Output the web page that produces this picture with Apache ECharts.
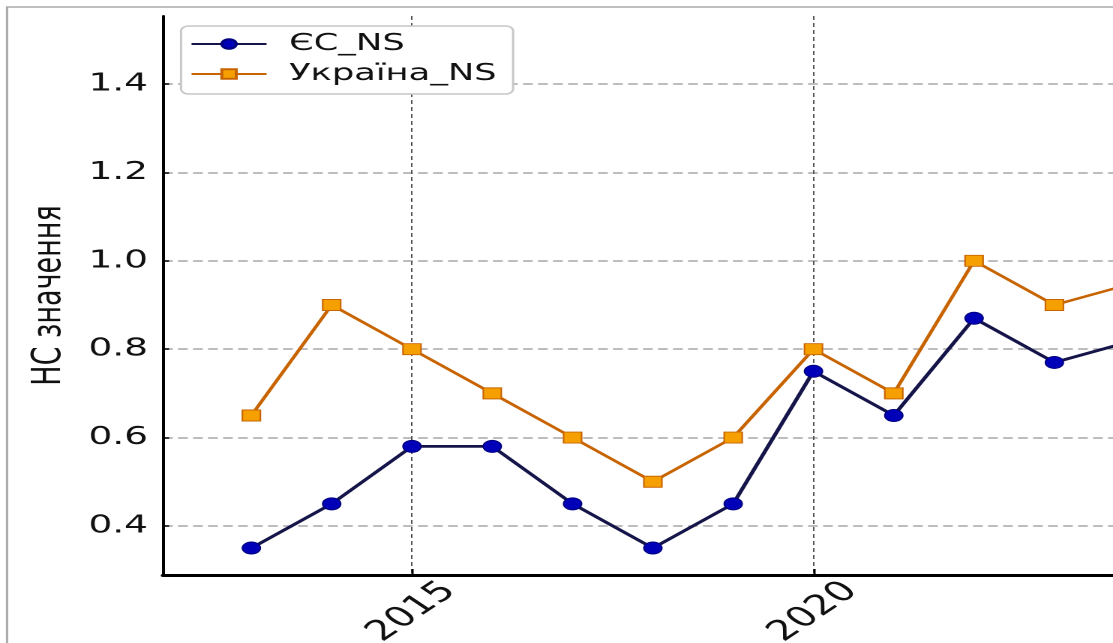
<!DOCTYPE html>
<html>
<head>
<meta charset="utf-8">
<script src="https://cdn.jsdelivr.net/npm/echarts@6/dist/echarts.min.js"></script>
<style>
html,body{margin:0;padding:0;background:#fff;overflow:hidden;width:1113px;height:643px;}
#c{width:810px;height:643px;transform:scaleX(1.5);transform-origin:0 0;}
</style>
</head>
<body>
<div id="c"></div>
<script>
const years = [2013, 2014, 2015, 2016, 2017, 2018, 2019, 2020, 2021, 2022, 2023, 2024];
const euNS = [0.35, 0.45, 0.58, 0.58, 0.45, 0.35, 0.45, 0.75, 0.65, 0.87, 0.77, 0.82];
const uaNS = [0.65, 0.90, 0.80, 0.70, 0.60, 0.50, 0.60, 0.80, 0.70, 1.00, 0.90, 0.95];
const xTicks = [2015, 2020];
const yTicks = [0.4, 0.6, 0.8, 1.0, 1.2, 1.4];
const seriesNames = ['ЄС_NS', 'Україна_NS'];
const yTitle = 'НС значення';

const FONT = 'DejaVu Sans';
const chart = echarts.init(document.getElementById('c'), null, {renderer: 'canvas', devicePixelRatio: 2});
chart.setOption({
  animation: false,
  backgroundColor: '#fff',
  graphic: [{
    type: 'rect', silent: true, z: -10,
    shape: {x: 4.7, y: 7, width: 2000, height: 2000},
    style: {fill: 'none', stroke: '#aaaaaa', lineWidth: 1.5}
  }],
  grid: {left: 108.7, right: 0, top: 16, bottom: 68, containLabel: false, outerBoundsMode: 'none'},
  legend: {
    left: 120.7, top: 26, orient: 'vertical',
    backgroundColor: '#fff', borderColor: '#c8c8c8', borderWidth: 1.5, borderRadius: 5,
    padding: [6, 11, 8, 6], itemGap: 6, itemWidth: 50, itemHeight: 12,
    textStyle: {fontFamily: FONT, fontSize: 23.5, color: '#111', lineHeight: 24, padding: [0, 0, 0, 10]},
    data: seriesNames
  },
  xAxis: {
    type: 'value', min: 2011.9, max: 2025,
    axisLine: {show: true, lineStyle: {color: '#000', width: 3}},
    axisTick: {show: true, inside: true, length: 6, lineStyle: {color: '#000', width: 1.5}, customValues: xTicks},
    axisLabel: {customValues: xTicks, rotate: 45, align: 'center', verticalAlign: 'middle', margin: 37,
      fontFamily: FONT, fontSize: 28, color: '#111', formatter: v => String(v)},
    splitLine: {show: true, lineStyle: {color: '#555', width: 1, type: [4, 3]}}
  },
  yAxis: {
    type: 'value', min: 0.289, max: 1.554,
    name: yTitle, nameLocation: 'middle', nameRotate: 90, nameGap: 62,
    nameTextStyle: {fontFamily: FONT, fontSize: 27, color: '#111', padding: [0, 0, 0, 0]},
    axisLine: {show: true, lineStyle: {color: '#000', width: 2}},
    axisTick: {show: true, inside: true, length: 4, lineStyle: {color: '#000', width: 1.5}, customValues: yTicks},
    axisLabel: {customValues: yTicks, margin: 10, fontFamily: FONT, fontSize: 25, color: '#111',
      formatter: v => v.toFixed(1)},
    splitLine: {show: true, lineStyle: {color: '#a8a8a8', width: 1.5, type: [6.5, 3.5]}}
  },
  series: [
    {
      name: seriesNames[0], type: 'line', clip: true,
      data: years.map((y, i) => [y, euNS[i]]),
      symbol: 'circle', symbolSize: 12,
      lineStyle: {color: '#15154a', width: 2.8},
      itemStyle: {color: '#0000b8', borderColor: '#000080', borderWidth: 1}
    },
    {
      name: seriesNames[1], type: 'line', clip: true,
      data: years.map((y, i) => [y, uaNS[i]]),
      symbol: 'rect', symbolSize: [12, 11],
      lineStyle: {color: '#c86400', width: 2.5},
      itemStyle: {color: '#f5a000', borderColor: '#c86400', borderWidth: 1}
    }
  ]
});
</script>
</body>
</html>
